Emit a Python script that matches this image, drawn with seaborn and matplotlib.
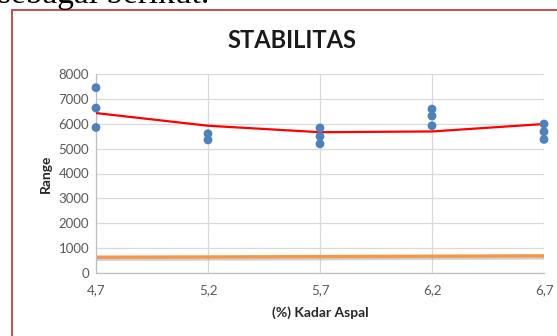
import matplotlib
matplotlib.use("Agg")
import matplotlib.pyplot as plt
import matplotlib.patheffects as pe
from matplotlib.lines import Line2D
import seaborn as sns
import pandas as pd

# Asphalt content levels (%)
kadar_aspal = [4.7, 5.2, 5.7, 6.2, 6.7]
x_labels = ["4,7", "5,2", "5,7", "6,2", "6,7"]

# Stability test results per specimen
uji_kadar = [4.7, 4.7, 4.7, 5.2, 5.2, 5.7, 5.7, 5.7, 6.2, 6.2, 6.2, 6.7, 6.7, 6.7]
uji_stabilitas = [7450, 6630, 5850, 5600, 5350, 5830, 5490, 5190, 6590, 6310, 5920, 5990, 5680, 5370]

# Fitted stability curve and the minimum specification line
trend_stabilitas = [6430, 5920, 5660, 5690, 5990]
batas_minimum = [635, 645, 660, 675, 690]

y_ticks = [0, 1000, 2000, 3000, 4000, 5000, 6000, 7000, 8000]

sns.set_style("white")
plt.rcParams["font.family"] = ["Lato", "DejaVu Sans"]

W, H = 557, 336
fig = plt.figure(figsize=(W / 100, H / 100), dpi=100)

# Caption fragment above the chart frame
fig.text(-2 / W, 1 - 3 / H, "sebagai berikut.", family="Liberation Serif",
         fontsize=24, va="baseline", ha="left", color="black")

# Chart frame
frame_color = "#c0504d"
fig.add_artist(Line2D([12 / W, 12 / W], [0, 1 - 10 / H], transform=fig.transFigure,
                      color=frame_color, lw=1.4))
fig.add_artist(Line2D([12 / W, 1.0], [1 - 10 / H, 1 - 10 / H], transform=fig.transFigure,
                      color=frame_color, lw=1.4))

ax = fig.add_axes([96 / W, (H - 273) / H, (544 - 96) / W, (273 - 74) / H])

df_pts = pd.DataFrame({"kadar": uji_kadar, "stabilitas": uji_stabilitas})
df_lines = pd.DataFrame({"kadar": kadar_aspal, "trend": trend_stabilitas, "batas": batas_minimum})

sns.lineplot(data=df_lines, x="kadar", y="batas", ax=ax, color="#f79646", lw=2.4,
             path_effects=[pe.SimpleLineShadow(offset=(0, -1.5), shadow_color="#9a9a9a", alpha=0.45),
                           pe.Normal()], zorder=2)
sns.lineplot(data=df_lines, x="kadar", y="trend", ax=ax, color="#ff0000", lw=1.6, zorder=3)
sns.scatterplot(data=df_pts, x="kadar", y="stabilitas", ax=ax, color="#4f81bd",
                s=40, edgecolor="none", zorder=4, clip_on=False)

ax.set_xlim(4.7, 6.7)
ax.set_ylim(0, 8000)
ax.set_xticks(kadar_aspal)
ax.set_xticklabels(x_labels)
ax.set_yticks(y_ticks)
ax.set_yticklabels([str(v) for v in y_ticks])
ax.tick_params(axis="both", labelsize=9.5, colors="#595959", length=0)
ax.tick_params(axis="x", pad=8)
ax.tick_params(axis="y", pad=5)
ax.grid(True, color="#d9d9d9", lw=0.9)
ax.set_axisbelow(True)
for side in ["top", "right"]:
    ax.spines[side].set_visible(False)
for side in ["left", "bottom"]:
    ax.spines[side].set_color("#bfbfbf")
    ax.spines[side].set_linewidth(0.9)

ax.set_xlabel("(%) Kadar Aspal", fontsize=10, fontweight="bold", color="#262626", labelpad=7)
ax.set_ylabel("Range", fontsize=10, fontweight="bold", color="#262626", labelpad=5)

fig.text(292 / W, 1 - 41 / H, "STABILITAS", fontsize=17, fontweight="bold",
         ha="center", va="center", color="#1a1a1a")

fig.savefig("out.png", dpi=100)
